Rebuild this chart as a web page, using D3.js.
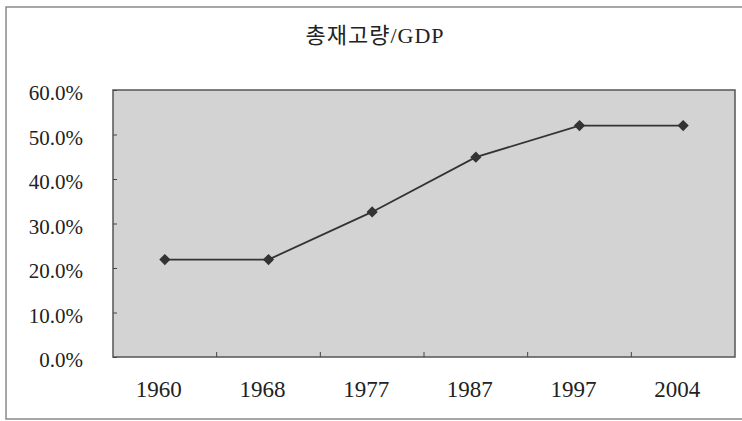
<!DOCTYPE html>
<html>
<head>
<meta charset="utf-8">
<script src="https://cdn.jsdelivr.net/npm/d3@7"></script>
<style>
  body { margin: 0; background: #fff; }
  svg { display: block; }
</style>
</head>
<body>
<script>
// Data
var years = ["1960", "1968", "1977", "1987", "1997", "2004"];
var ratio = [21.9, 21.9, 32.6, 44.9, 52.0, 52.0];
var yTicks = [0, 10, 20, 30, 40, 50, 60];
var title = "총재고량/GDP";

var W = 742, H = 421;
var margin = {top: 90, right: 7, bottom: 64, left: 113},
    width = W - margin.left - margin.right,
    height = H - margin.top - margin.bottom;

var serif = "'Liberation Serif', 'Times New Roman', 'Noto Sans CJK KR', serif";

var svg = d3.select("body").append("svg")
    .attr("width", W)
    .attr("height", H);

// outer frame (scanned page edge)
svg.append("path")
    .attr("d", "M742,7 H6 V419 H742")
    .attr("fill", "none")
    .attr("stroke", "#8a8a8a")
    .attr("stroke-width", 1.5);

svg.append("text")
    .attr("x", 375)
    .attr("y", 43)
    .attr("text-anchor", "middle")
    .style("font-family", serif)
    .style("font-size", "22px")
    .style("letter-spacing", "1px")
    .attr("fill", "#222")
    .text(title);

var chart = svg.append("g")
    .attr("transform", "translate(" + margin.left + "," + margin.top + ")");

var x = d3.scaleBand()
    .domain(years)
    .range([0, width]);
var y = d3.scaleLinear()
    .domain([0, 60])
    .range([height, 0]);

// plot area
chart.append("rect")
    .attr("width", width)
    .attr("height", height)
    .attr("fill", "#d3d3d3")
    .attr("stroke", "#555")
    .attr("stroke-width", 1.5);

// y axis, ticks pointing inward
var yAxis = chart.append("g")
    .call(d3.axisRight(y).tickValues(yTicks).tickSize(4).tickFormat(""));
yAxis.select(".domain").remove();
yAxis.selectAll("line").attr("stroke", "#444");

chart.selectAll(".ylab")
    .data(yTicks)
  .enter().append("text")
    .attr("class", "ylab")
    .attr("x", -30)
    .attr("y", function(d) { return y(d) + 3; })
    .attr("dy", "0.35em")
    .attr("text-anchor", "end")
    .style("font-family", serif)
    .style("font-size", "21px")
    .attr("fill", "#222")
    .text(function(d) { return d.toFixed(1) + "%"; });

// x ticks at band boundaries, pointing up
chart.selectAll(".xtick")
    .data(years.slice(1))
  .enter().append("line")
    .attr("class", "xtick")
    .attr("x1", function(d) { return x(d); })
    .attr("x2", function(d) { return x(d); })
    .attr("y1", height)
    .attr("y2", height - 5)
    .attr("stroke", "#444");

chart.selectAll(".xlab")
    .data(years)
  .enter().append("text")
    .attr("class", "xlab")
    .attr("x", function(d) { return x(d) + x.bandwidth() / 2 - 6; })
    .attr("y", height + 40)
    .attr("text-anchor", "middle")
    .style("font-family", serif)
    .style("font-size", "23px")
    .attr("fill", "#222")
    .text(function(d) { return d; });

var line = d3.line()
    .x(function(d, i) { return x(years[i]) + x.bandwidth() / 2; })
    .y(function(d) { return y(d); });

chart.append("path")
    .datum(ratio)
    .attr("d", line)
    .attr("fill", "none")
    .attr("stroke", "#333")
    .attr("stroke-width", 1.8);

chart.selectAll(".pt")
    .data(ratio)
  .enter().append("path")
    .attr("class", "pt")
    .attr("d", d3.symbol().type(d3.symbolDiamond2).size(80))
    .attr("transform", function(d, i) {
      return "translate(" + (x(years[i]) + x.bandwidth() / 2) + "," + y(d) + ")";
    })
    .attr("fill", "#333");
</script>
</body>
</html>
